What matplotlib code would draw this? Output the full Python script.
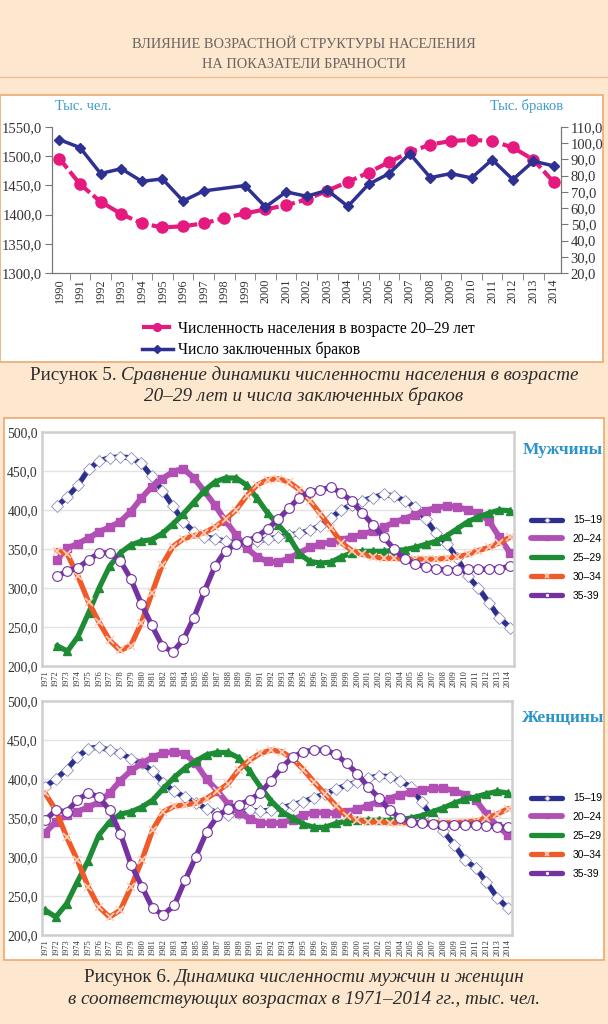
import numpy as np
import matplotlib
matplotlib.use('Agg')
import matplotlib.pyplot as plt
from matplotlib.patches import Rectangle

plt.rcParams['font.family'] = ['Liberation Serif', 'DejaVu Serif']

W, H = 608, 1024

# --- Figure 5 data ---
years5 = list(range(1990, 2015))
population = [1496, 1452, 1422, 1401, 1385, 1378, 1380, 1385, 1394, 1402, 1409, 1416, 1426,
              1441, 1456, 1472, 1490, 1507, 1520, 1526, 1528, 1526, 1515, 1494, 1455]
marriages = [102.2, 97.3, 81.3, 84.3, 76.5, 78.0, 64.4, 70.6, np.nan, 73.9, 60.7, 70.0, 67.3,
             71.0, 61.1, 74.7, 81.3, 93.6, 78.8, 81.3, 78.6, 89.9, 77.6, 88.9, 86.0]

# --- Figure 6 data ---
years6 = list(range(1971, 2015))
groups = ['15–19', '20–24', '25–29', '30–34', '35-39']
men = [
    [405, 417, 432, 452, 463, 467, 468, 467, 460, 443, 425, 405, 385, 372, 366, 363, 360, 358, 358, 360, 363, 365,
     368, 370, 374, 380, 390, 400, 407, 412, 416, 420, 418, 412, 404, 388, 370, 357, 338, 315, 300, 281, 262, 249],
    [336, 351, 357, 364, 372, 378, 385, 398, 415, 430, 440, 449, 453, 441, 424, 406, 386, 368, 351, 340, 334, 333,
     338, 345, 352, 356, 359, 362, 365, 369, 373, 378, 384, 389, 394, 399, 403, 405, 404, 400, 396, 386, 365, 345],
    [226, 219, 238, 268, 300, 328, 345, 355, 360, 362, 370, 382, 395, 410, 425, 436, 441, 441, 432, 415, 396, 381,
     366, 344, 334, 332, 333, 340, 345, 347, 347, 347, 348, 349, 352, 356, 360, 367, 376, 385, 391, 396, 400, 399],
    [348, 343, 315, 282, 256, 233, 220, 226, 255, 293, 330, 353, 363, 367, 371, 378, 388, 400, 418, 432, 439, 440,
     436, 426, 412, 395, 377, 358, 348, 343, 340, 338, 338, 337, 337, 337, 337, 338, 340, 343, 348, 352, 358, 365],
    [315, 322, 326, 336, 345, 345, 335, 312, 280, 252, 226, 218, 234, 262, 296, 328, 348, 356, 360, 366, 376, 388,
     402, 416, 423, 426, 429, 422, 411, 396, 381, 365, 350, 337, 331, 327, 324, 323, 323, 324, 324, 324, 325, 328],
]
women = [
    [390, 400, 412, 428, 439, 441, 437, 433, 426, 420, 410, 395, 384, 377, 369, 362, 357, 354, 357, 360, 359, 360,
     363, 367, 371, 376, 381, 387, 392, 396, 401, 404, 403, 397, 390, 370, 350, 333, 316, 296, 286, 268, 248, 234],
    [331, 345, 354, 358, 364, 370, 382, 398, 411, 420, 428, 433, 435, 432, 420, 400, 385, 368, 357, 349, 344, 343,
     344, 348, 354, 357, 357, 356, 358, 361, 366, 371, 375, 380, 383, 386, 388, 388, 385, 380, 373, 355, 340, 328],
    [232, 223, 240, 268, 295, 328, 345, 355, 358, 364, 373, 388, 402, 414, 423, 431, 434, 434, 427, 410, 390, 372,
     358, 350, 342, 338, 338, 343, 346, 347, 347, 347, 347, 348, 350, 353, 358, 363, 369, 374, 377, 381, 384, 382],
    [382, 360, 326, 296, 262, 236, 223, 232, 262, 296, 335, 358, 365, 367, 369, 375, 384, 394, 412, 424, 433, 437,
     435, 426, 412, 396, 381, 366, 353, 347, 345, 345, 344, 344, 344, 344, 344, 344, 344, 345, 346, 350, 355, 362],
    [347, 360, 358, 373, 382, 377, 360, 330, 290, 262, 234, 226, 238, 270, 300, 332, 352, 362, 367, 373, 382, 398,
     415, 428, 435, 437, 437, 432, 420, 407, 390, 376, 360, 350, 345, 343, 342, 341, 341, 341, 341, 340, 339, 338],
]

styles = [
    dict(color='#2B2F8F', marker='D', ms=6, mfc='white', mec='#8C8CB8', mew=0.6, lw=3.8),
    dict(color='#B14FB5', marker='s', ms=5.5, mfc='#B14FB5', mec='#B14FB5', lw=4.2),
    dict(color='#1E8C35', marker='^', ms=6, mfc='#1E8C35', mec='#1E8C35', lw=3.8),
    dict(color='#F05A28', marker='x', ms=5.5, mec='#FDD2BE', mew=1.2, lw=3.8),
    dict(color='#7433A0', marker='o', ms=7, mfc='white', mec='#7433A0', mew=0.8, lw=3.8),
]

fig = plt.figure(figsize=(W / 100, H / 100), dpi=100, facecolor='#FDE7CE')


def box(x0, y0, x1, y1):
    return [x0 / W, 1 - y1 / H, (x1 - x0) / W, (y1 - y0) / H]


def fy(y):
    return 1 - y / H


def comma(v):
    return f'{v:.1f}'.replace('.', ',')


# header and panels (kept behind the axes)
fig.text(0.5, fy(45), 'ВЛИЯНИЕ ВОЗРАСТНОЙ СТРУКТУРЫ НАСЕЛЕНИЯ', ha='center', va='center',
         fontsize=10.4, color='#6D6460')
fig.text(0.5, fy(65), 'НА ПОКАЗАТЕЛИ БРАЧНОСТИ', ha='center', va='center', fontsize=10.4, color='#6D6460')
fig.add_artist(plt.Line2D([0, 1], [fy(77), fy(77)], color='#F2BE94', lw=1, zorder=-10))
fig.add_artist(Rectangle((0, fy(362)), 603 / W, (362 - 95) / H, transform=fig.transFigure,
                         facecolor='white', edgecolor='#EFA96E', lw=1.2, zorder=-10))
fig.add_artist(Rectangle((4 / W, fy(960)), 600 / W, (960 - 418) / H, transform=fig.transFigure,
                         facecolor='white', edgecolor='#EFA96E', lw=1.2, zorder=-10))

# ---------------- Figure 5 ----------------
idx5 = np.arange(len(years5))
ax5 = fig.add_axes(box(52, 127, 561, 273))
ax5.set_facecolor('none')
ax5.plot(idx5, population, color='#E6197F', lw=3, ls=(0, (3, 1)), marker='o', ms=8,
         label='Численность населения в возрасте 20–29 лет', zorder=3)
ax5.set_ylim(1300, 1550)
ax5.set_xlim(-0.36, 24.34)
ax5.set_yticks(range(1300, 1551, 50))
ax5.set_yticklabels([comma(v) for v in range(1300, 1551, 50)], fontsize=10.5, color='#333333')
ax5.set_xticks(idx5)
ax5.set_xticklabels(years5, rotation=90, fontsize=8.8, color='#333333')
ax5.set_xticks(idx5[:-1] + 0.5, minor=True)
ax5.tick_params(axis='x', which='major', length=0, pad=4)
ax5.tick_params(axis='x', which='minor', length=5, color='#777777', direction='out')
ax5.tick_params(axis='y', length=5, color='#777777', direction='out', pad=2)
ax5.spines['top'].set_visible(False)
for s in ['left', 'bottom', 'right']:
    ax5.spines[s].set_color('#777777')

ax5r = ax5.twinx()
m = ~np.isnan(np.array(marriages))
ax5r.plot(idx5[m], np.array(marriages)[m], color='#2E3192', lw=2.5, marker='D', ms=5.5,
          label='Число заключенных браков', zorder=4)
ax5r.set_ylim(20, 110)
ax5r.set_yticks(range(20, 111, 10))
ax5r.set_yticklabels([comma(v) for v in range(20, 111, 10)], fontsize=10.5, color='#333333')
ax5r.tick_params(axis='y', length=5, color='#777777', direction='out', pad=2)
ax5r.spines['top'].set_visible(False)
for s in ['left', 'bottom', 'right']:
    ax5r.spines[s].set_color('#777777')

fig.text(55 / W, fy(106), 'Тыс. чел.', ha='left', va='center', fontsize=10.5, color='#3A9CC8')
fig.text(563 / W, fy(106), 'Тыс. браков', ha='right', va='center', fontsize=10.5, color='#3A9CC8')

h1, l1 = ax5.get_legend_handles_labels()
h2, l2 = ax5r.get_legend_handles_labels()
fig.legend(h1 + h2, l1 + l2, loc='upper left', bbox_to_anchor=(134 / W, fy(313)), frameon=False,
           fontsize=11.2, handlelength=2.0, handletextpad=0.3, labelspacing=0.3, borderpad=0,
           numpoints=1, markerscale=0.7)

# ---------------- Figure 6 ----------------
idx6 = np.arange(len(years6))


def panel(rect, data, xlim, ticks, title, title_y, leg_y):
    ax = fig.add_axes(rect)
    for vals, name, st in zip(data, groups, styles):
        ax.plot(idx6, vals, label=name, solid_capstyle='round', **st)
    ax.set_ylim(200, 500)
    ax.set_xlim(*xlim)
    ax.set_yticks(range(200, 501, 50))
    ax.set_yticklabels([comma(v) for v in range(200, 501, 50)], fontsize=9.8, color='#333333')
    ax.yaxis.grid(True, color='#E3E3E3', lw=1)
    ax.set_axisbelow(True)
    ax.set_xticks(ticks)
    ax.set_xticklabels(years6, rotation=90, fontsize=6, color='#333333')
    ax.tick_params(length=0, pad=3)
    for s in ax.spines.values():
        s.set_color('#CFCFCF')
        s.set_linewidth(1.8)
    fig.text(563 / W, fy(title_y), title, ha='center', va='center', fontsize=12.5,
             fontweight='bold', color='#2A93C9')
    fig.legend(*ax.get_legend_handles_labels(), loc='upper left', bbox_to_anchor=(526 / W, fy(leg_y)),
               frameon=False, prop={'family': 'Liberation Sans', 'size': 7.5}, handlelength=3.0,
               handletextpad=1.0, labelspacing=0.85, borderpad=0, numpoints=1, markerscale=0.45)
    return ax


axm = panel(box(42, 432, 514, 666), men, (-1.42, 43.38), np.linspace(-1.14, 42.8, 44),
            'Мужчины', 450, 510)
axw = panel(box(42, 701, 512, 935), women, (-0.28, 43.37), idx6,
            'Женщины', 718, 788)

# captions with mixed regular/italic parts
renderer = fig.canvas.get_renderer()


def caption_line(y, parts, size=13.8):
    objs = []
    for txt, st in parts:
        objs.append(fig.text(0, fy(y), txt, fontsize=size, style=st, ha='left', va='center',
                             color='#2B2B2B'))
    widths = [o.get_window_extent(renderer=renderer).width for o in objs]
    gap = 4
    x = (W - sum(widths) - gap * (len(objs) - 1)) / 2
    for o, w in zip(objs, widths):
        o.set_x(x / W)
        x += w + gap


caption_line(375, [('Рисунок 5.', 'normal'),
                   ('Сравнение динамики численности населения в возрасте', 'italic')])
caption_line(396, [('20–29 лет и числа заключенных браков', 'italic')])
caption_line(978, [('Рисунок 6.', 'normal'), ('Динамика численности мужчин и женщин', 'italic')])
caption_line(1000, [('в соответствующих возрастах в 1971–2014 гг., тыс. чел.', 'italic')])

fig.savefig('out.png', dpi=100, facecolor=fig.get_facecolor())
